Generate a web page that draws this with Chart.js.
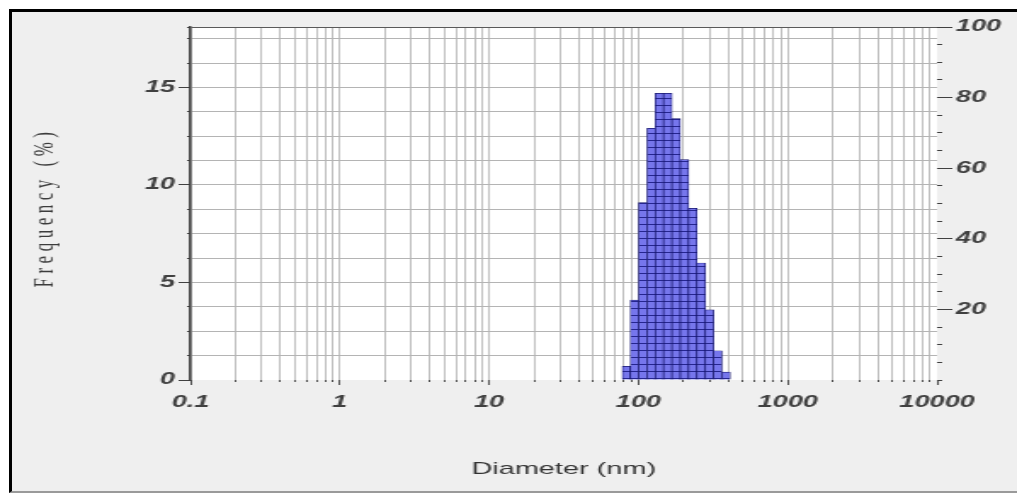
<!DOCTYPE html>
<html lang="en">
<head>
<meta charset="utf-8"/>
<title>Particle size distribution</title>
<style>
  body { margin: 0; background: #fff; width: 1017px; height: 493px; overflow: hidden; position: relative; }
  .frame { position: absolute; left: 9px; top: 9px; width: 1030px; height: 479px; background: #efefef;
           border-top: 3px solid #000; border-left: 3px solid #000; border-bottom: 2px solid #9a9a9a; }
  canvas { position: absolute; left: 0; top: 0; }
</style>
</head>
<body>
<div class="frame"></div>
<!-- drawn narrow and stretched sideways, like the original screenshot -->
<canvas id="chart" width="598" height="493" style="width:1017px;height:493px"></canvas>
<script src="https://cdn.jsdelivr.net/npm/chart.js"></script>
<script>
// histogram bins (nm, log spaced) and frequency (%)
const binCenters = [83, 94, 107, 122, 138, 157, 179, 203, 231, 263, 299, 340, 386];
const frequency = [0.7, 4.1, 9.1, 12.9, 14.7, 14.7, 13.4, 11.3, 8.8, 6.0, 3.6, 1.5, 0.4];

const xTickLabels = ['0.1', '1', '10', '100', '1000', '10000'];
const yTickLabels = [0, 5, 10, 15];
const y2TickLabels = [20, 40, 60, 80, 100];
const yMax = 18.1;

// grid positions
const xGrid = [];
xTickLabels.forEach((t, i) => {
  const d = +t;
  if (i === xTickLabels.length - 1) { xGrid.push(d); return; }
  for (let m = 1; m <= 9; m++) xGrid.push(d * m);
});
const yGrid = [];
for (let v = 0; v <= 17.5; v += 1.25) yGrid.push(v);
yGrid.push(yMax);
const y2Grid = [];
for (let v = 0; v <= 100; v += 5) y2Grid.push(v);

const isDecade = v => xTickLabels.some(t => Math.abs(+t - v) < 1e-9);

Chart.defaults.font.family = '"Liberation Sans", Arial, sans-serif';
const tickFont = { size: 16, style: 'italic', weight: 'bold' };

const ctx = document.getElementById('chart').getContext('2d');

function barPattern() {
  const c = document.createElement('canvas');
  c.width = 4; c.height = 7;
  const g = c.getContext('2d');
  g.fillStyle = '#7676ec';
  g.fillRect(0, 0, 4, 7);
  g.fillStyle = '#25258f';
  g.fillRect(0, 0, 4, 1);
  return ctx.createPattern(c, 'repeat');
}

const plotBackground = {
  id: 'plotBackground',
  beforeDraw(chart) {
    const a = chart.chartArea, c = chart.ctx;
    c.save();
    c.fillStyle = '#ffffff';
    c.fillRect(a.left, a.top, a.right - a.left, a.bottom - a.top);
    c.restore();
  }
};

const yTitle = {
  id: 'yTitle',
  afterDraw(chart) {
    const a = chart.chartArea, c = chart.ctx;
    c.save();
    c.translate(26.5, (a.top + a.bottom) / 2 + 4);
    c.rotate(-Math.PI / 2);
    c.font = '17px "Liberation Serif", serif';
    c.letterSpacing = '4.5px';
    c.fillStyle = '#3c3c3c';
    c.textAlign = 'center';
    c.textBaseline = 'middle';
    c.fillText('Frequency (%)', 0, 0);
    c.restore();
  }
};

new Chart(ctx, {
  type: 'bar',
  data: {
    datasets: [{
      data: binCenters.map((x, i) => ({ x: x, y: frequency[i] })),
      backgroundColor: barPattern(),
      borderColor: '#16166e',
      borderWidth: 0.7,
      barThickness: 'flex',
      categoryPercentage: 1,
      barPercentage: 1
    }]
  },
  options: {
    responsive: false,
    animation: false,
    devicePixelRatio: 1,
    layout: { padding: { top: 27, left: 0, right: 0, bottom: 0 } },
    plugins: { legend: { display: false }, tooltip: { enabled: false } },
    scales: {
      x: {
        type: 'logarithmic',
        min: 0.1, max: 10000,
        offset: false,
        afterBuildTicks: s => { s.ticks = xGrid.map(v => ({ value: v })); },
        afterFit: s => { s.height = 113; },
        grid: {
          offset: false,
          color: c => c.tick.value >= 10000 ? 'rgba(0,0,0,0)' : '#c0c0c0',
          lineWidth: 1,
          tickLength: 5,
          tickColor: '#505050',
          tickBorderDash: c => isDecade(c.tick.value) ? [] : [2, 20]
        },
        border: { display: false },
        ticks: {
          autoSkip: false, maxRotation: 0, minRotation: 0, padding: 8,
          color: '#404040', font: tickFont,
          callback: v => isDecade(v) ? xTickLabels.find(t => Math.abs(+t - v) < 1e-9) : ''
        },
        title: {
          display: true, text: 'Diameter (nm)', color: '#333333',
          font: { size: 17 }, padding: { top: 0, bottom: 13 }
        }
      },
      y: {
        min: 0, max: yMax,
        afterBuildTicks: s => { s.ticks = yGrid.map(v => ({ value: v })); },
        afterFit: s => { s.width = 112; },
        grid: {
          color: c => c.tick.value === yMax ? '#5a5a5a' : (c.tick.value === 0 ? 'rgba(0,0,0,0)' : '#b4b4b4'),
          lineWidth: 1,
          tickLength: 7,
          tickColor: '#404040',
          tickBorderDash: c => yTickLabels.includes(c.tick.value) ? [] : [0, 5, 2, 0]
        },
        border: { color: '#3c3c3c', width: 1.5 },
        ticks: {
          autoSkip: false, padding: 2, color: '#404040', font: tickFont,
          callback: v => yTickLabels.includes(v) ? String(v) : ''
        }
      },
      y2: {
        position: 'right',
        min: 0, max: 100,
        afterBuildTicks: s => { s.ticks = y2Grid.map(v => ({ value: v })); },
        afterFit: s => { s.width = 47; },
        grid: {
          drawOnChartArea: false,
          tickLength: 9,
          tickColor: '#404040',
          tickBorderDash: c => y2TickLabels.includes(c.tick.value) ? [] : [3, 20]
        },
        border: { display: false },
        ticks: {
          autoSkip: false, padding: 2, color: '#404040', font: tickFont,
          callback: v => y2TickLabels.includes(v) ? String(v) : ''
        }
      }
    }
  },
  plugins: [plotBackground, yTitle]
});
</script>
</body>
</html>
